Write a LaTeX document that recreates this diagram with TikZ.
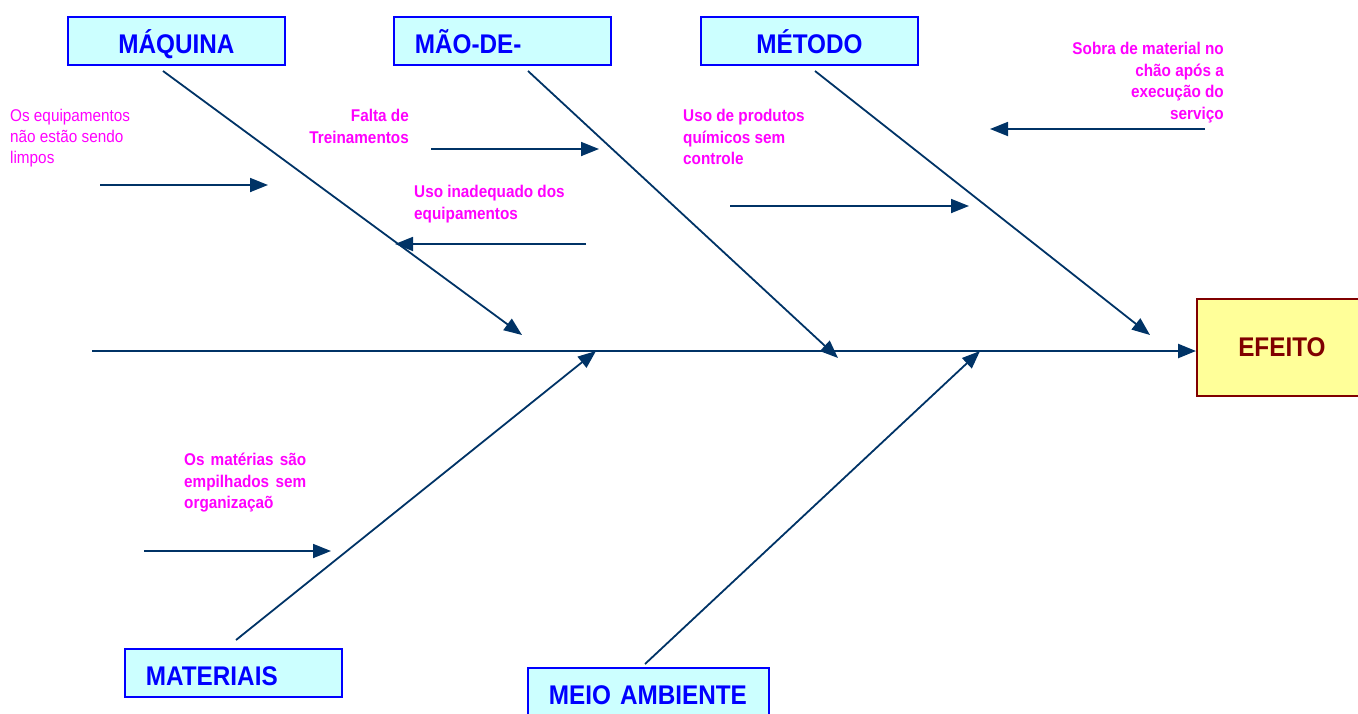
\documentclass[tikz,border=0pt]{standalone}
\usepackage{fontspec}
\setmainfont{Liberation Sans}[FakeStretch=0.9]
\usetikzlibrary{arrows.meta}
\definecolor{fb_blue}{RGB}{0,0,255}
\definecolor{fb_cyan}{RGB}{204,255,255}
\definecolor{fb_yellow}{RGB}{255,255,153}
\definecolor{fb_red}{RGB}{128,0,0}
\definecolor{fb_navy}{RGB}{0,51,102}
\definecolor{fb_pink}{RGB}{255,0,255}
\tikzstyle{cat}=[draw=fb_blue,fill=fb_cyan,line width=1.8pt,text=fb_blue,
  font=\fontsize{27}{30}\selectfont\bfseries,minimum height=48pt,
  text height=26pt,text depth=0pt,
  inner xsep=21pt,text width=175pt,anchor=north west]
\tikzstyle{eff}=[draw=fb_red,fill=fb_yellow,line width=1.8pt,text=fb_red,
  font=\fontsize{27}{30}\selectfont\bfseries,minimum width=170pt,
  minimum height=97pt,anchor=north west]
\tikzstyle{lbl}=[text=fb_pink,font=\fontsize{17}{21.5}\selectfont\bfseries,inner sep=0pt]
\tikzstyle{bone}=[draw=fb_navy,line width=1.8pt,-{Triangle[length=18pt,width=14pt]}]
\tikzstyle{none}=[]

\begin{document}
\begin{tikzpicture}[x=1pt, y=-1pt]
  \useasboundingbox (0, 0) rectangle (1358, 713);
  \node [style=cat, align=center] (0) at (67, 16) {MÁQUINA};
  \node [style=cat, align=left] (1) at (393, 16) {MÃO-DE-};
  \node [style=cat, align=center] (2) at (700, 16) {MÉTODO};
  \node [style=cat, align=left] (3) at (124, 648) {MATERIAIS};
  \node [style=cat, align=left, text width=199pt] (4) at (527, 667) {MEIO AMBIENTE};
  \node [style=eff] (5) at (1196, 298) {EFEITO};
  \coordinate (6) at (92, 351);
  \coordinate (7) at (163, 71);
  \coordinate (8) at (522, 335);
  \coordinate (9) at (528, 71);
  \coordinate (10) at (838, 358);
  \coordinate (11) at (815, 71);
  \coordinate (12) at (1150, 335);
  \coordinate (13) at (236, 640);
  \coordinate (14) at (596, 351);
  \coordinate (15) at (645, 664);
  \coordinate (16) at (980, 351);
  \coordinate (17) at (100, 185);
  \coordinate (18) at (268, 185);
  \coordinate (19) at (431, 149);
  \coordinate (20) at (599, 149);
  \coordinate (21) at (586, 244);
  \coordinate (22) at (395, 244);
  \coordinate (23) at (730, 206);
  \coordinate (24) at (969, 206);
  \coordinate (25) at (1205, 129);
  \coordinate (26) at (990, 129);
  \coordinate (27) at (144, 551);
  \coordinate (28) at (331, 551);
  \node [style=lbl, anchor=north west, align=left, font=\fontsize{17}{21}\selectfont] (29) at (10, 109)
    {Os equipamentos\\não estão sendo\\limpos};
  \node [style=lbl, anchor=north east, align=right] (30) at (409, 109) {Falta de\\Treinamentos};
  \node [style=lbl, anchor=north west, align=left] (31) at (414, 185) {Uso inadequado dos\\equipamentos};
  \node [style=lbl, anchor=north west, align=left] (32) at (683, 109)
    {Uso de produtos\\químicos sem\\controle};
  \node [style=lbl, anchor=north east, align=right] (33) at (1224, 42)
    {Sobra de material no\\chão após a\\execução do\\serviço};
  \node [style=lbl, anchor=north west, align=justify, text width=122pt] (34) at (184, 453)
    {Os matérias são empilhados sem organizaçaõ};
  \draw [style=bone, line width=2.4pt] (6) to (6 -| 5.west);
  \draw [style=bone] (7) to (8);
  \draw [style=bone] (9) to (10);
  \draw [style=bone] (11) to (12);
  \draw [style=bone] (13) to (14);
  \draw [style=bone] (15) to (16);
  \draw [style=bone] (17) to (18);
  \draw [style=bone] (19) to (20);
  \draw [style=bone] (21) to (22);
  \draw [style=bone] (23) to (24);
  \draw [style=bone] (25) to (26);
  \draw [style=bone] (27) to (28);
\end{tikzpicture}
\end{document}
